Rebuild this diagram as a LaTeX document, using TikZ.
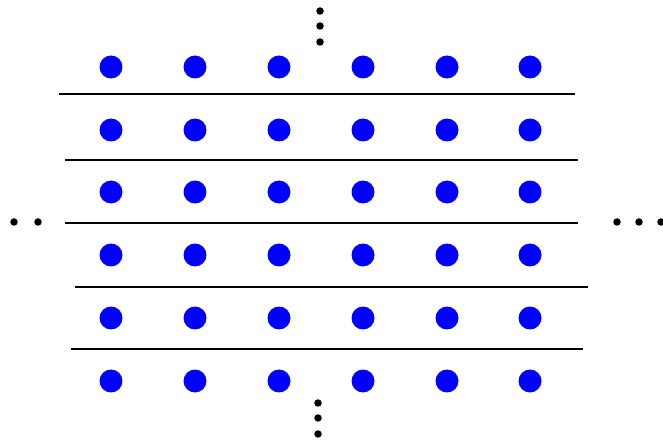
\documentclass[tikz,border=0pt]{standalone}
\usepackage{tikz}
\usetikzlibrary{positioning}
\tikzset{
  % a lattice point (blue disc)
  lpoint/.style = {circle, draw=none, fill=blue, inner sep=0pt, minimum size=0.46cm},
  % a small black dot for the ellipses
  edot/.style   = {circle, draw=none, fill=black, inner sep=0pt, minimum size=0.15cm},
  % separating horizontal line
  sline/.style  = {line width=1.1pt},
}

\begin{document}
\begin{tikzpicture}[x=0.02cm,y=-0.02cm]
    \useasboundingbox (0,0) rectangle (663,442);
    % grid of lattice points
    \foreach \y [count=\r] in {67,130,192,255,318,381} {
      \foreach \x [count=\c] in {111,195,279,363,447,530} {
        \node[lpoint] (p\r\c) at (\x,\y) {};
      }
    }
    % separating lines between the rows
    \coordinate (l1a) at (59,94);  \coordinate (l1b) at (575,94);
    \coordinate (l2a) at (65,160); \coordinate (l2b) at (578,160);
    \coordinate (l3a) at (65,223); \coordinate (l3b) at (578,223);
    \coordinate (l4a) at (75,287); \coordinate (l4b) at (588,287);
    \coordinate (l5a) at (71,349); \coordinate (l5b) at (583,349);
    \foreach \i in {1,...,5} {
      \draw[sline] (l\i a) -- (l\i b);
    }
    % ellipses: top, bottom, left, right
    \node[edot] (t1) at (320,11) {};
    \node[edot] (t2) at (320,26) {};
    \node[edot] (t3) at (320,42) {};
    \node[edot] (b1) at (318,403) {};
    \node[edot] (b2) at (318,418) {};
    \node[edot] (b3) at (318,434) {};
    \node[edot] (w1) at (14,222) {};
    \node[edot] (w2) at (38,222) {};
    \node[edot] (e1) at (617,222) {};
    \node[edot] (e2) at (639,222) {};
    \node[edot] (e3) at (661,222) {};
\end{tikzpicture}
\end{document}
